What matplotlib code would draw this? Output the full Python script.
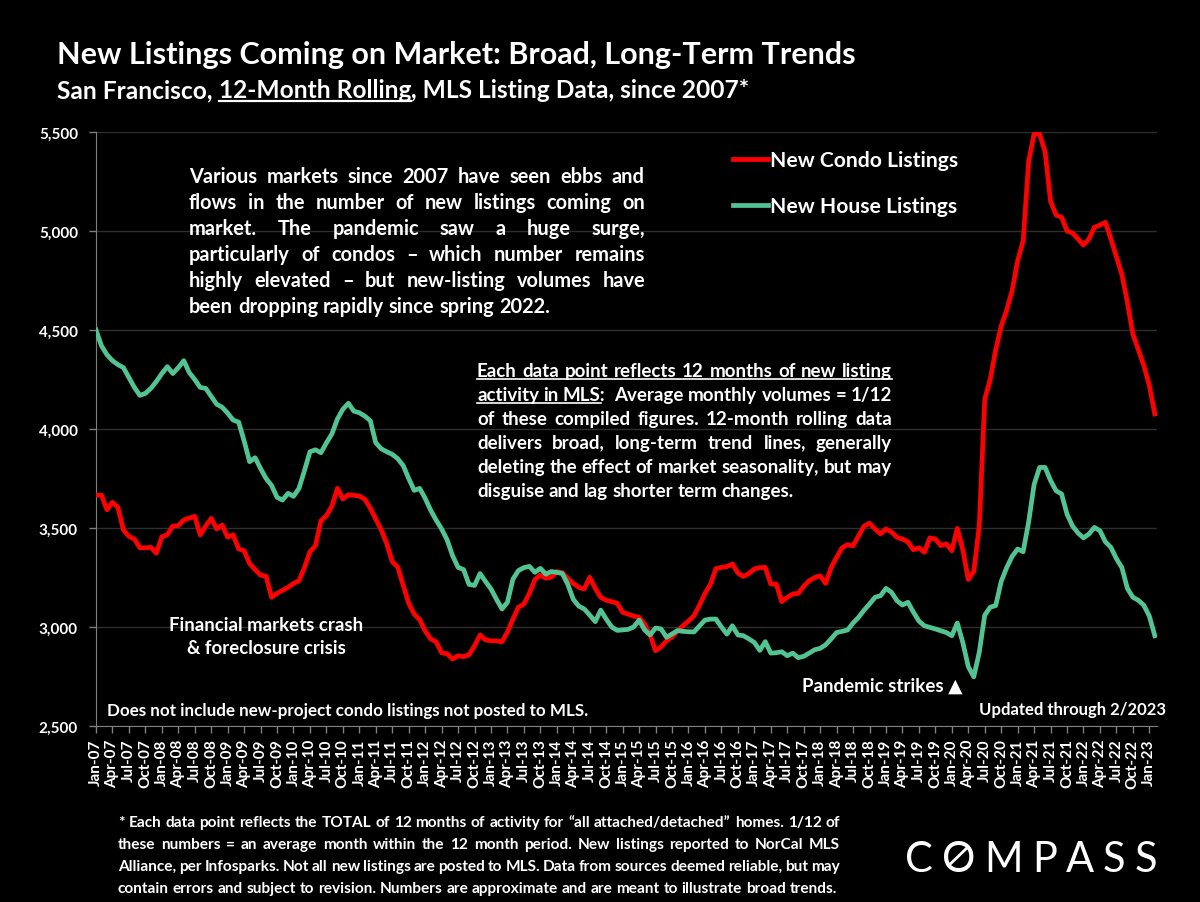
import numpy as np
import matplotlib.pyplot as plt
from matplotlib.lines import Line2D

plt.rcParams['font.family'] = ['Lato', 'DejaVu Sans']

# monthly, Jan-07 .. Feb-23 (12-month rolling totals)
mon = ["Jan", "Feb", "Mar", "Apr", "May", "Jun", "Jul", "Aug", "Sep", "Oct", "Nov", "Dec"]
months = [f"{m}-{y:02d}" for y in range(7, 24) for m in mon][:194]

condo = [
    3666, 3666, 3592, 3630, 3604, 3490, 3458, 3444, 3400, 3400, 3402, 3373,  # 2007
    3455, 3466, 3510, 3512, 3540, 3550, 3559, 3465, 3510, 3549, 3495, 3515,  # 2008
    3453, 3466, 3394, 3385, 3320, 3290, 3262, 3257, 3150, 3170, 3185, 3200,  # 2009
    3220, 3234, 3300, 3380, 3410, 3537, 3562, 3610, 3700, 3646, 3668, 3665,  # 2010
    3662, 3645, 3600, 3545, 3490, 3420, 3330, 3303, 3210, 3120, 3065, 3037,  # 2011
    2980, 2940, 2925, 2870, 2865, 2838, 2855, 2850, 2860, 2905, 2960, 2935,  # 2012
    2930, 2930, 2925, 2975, 3040, 3100, 3116, 3170, 3240, 3262, 3246, 3251,  # 2013
    3280, 3275, 3245, 3220, 3200, 3192, 3251, 3195, 3150, 3135, 3128, 3120,  # 2014
    3074, 3065, 3055, 3049, 3015, 2960, 2880, 2900, 2930, 2950, 2980, 3006,  # 2015
    3030, 3057, 3110, 3170, 3215, 3295, 3301, 3305, 3318, 3273, 3255, 3270,  # 2016
    3293, 3300, 3301, 3217, 3217, 3128, 3150, 3167, 3170, 3205, 3234, 3250,  # 2017
    3259, 3220, 3300, 3352, 3400, 3416, 3410, 3460, 3510, 3524, 3495, 3470,  # 2018
    3495, 3480, 3453, 3444, 3430, 3390, 3400, 3377, 3450, 3444, 3411, 3420,  # 2019
    3385, 3498, 3390, 3240, 3280, 3510, 4150, 4250, 4400, 4520, 4600, 4700,  # 2020
    4850, 4950, 5350, 5490, 5490, 5400, 5150, 5080, 5070, 5000, 4990, 4960,  # 2021
    4929, 4960, 5019, 5030, 5044, 4960, 4870, 4780, 4640, 4480, 4400, 4320,  # 2022
    4220, 4076,                                                              # 2023
]

house = [
    4500, 4420, 4375, 4345, 4325, 4310, 4260, 4210, 4170, 4180, 4205, 4240,  # 2007
    4280, 4315, 4280, 4310, 4345, 4285, 4250, 4210, 4205, 4165, 4125, 4110,  # 2008
    4080, 4045, 4035, 3940, 3835, 3855, 3800, 3750, 3715, 3655, 3641, 3675,  # 2009
    3660, 3700, 3790, 3885, 3895, 3880, 3930, 3975, 4050, 4100, 4130, 4090,  # 2010
    4082, 4065, 4042, 3930, 3900, 3885, 3872, 3850, 3815, 3750, 3690, 3700,  # 2011
    3650, 3590, 3540, 3495, 3440, 3360, 3301, 3290, 3215, 3210, 3270, 3230,  # 2012
    3192, 3140, 3091, 3125, 3242, 3285, 3300, 3306, 3276, 3296, 3267, 3280,  # 2013
    3276, 3270, 3215, 3140, 3105, 3091, 3060, 3027, 3085, 3040, 3000, 2983,  # 2014
    2985, 2988, 3000, 3035, 2985, 2960, 2995, 2990, 2948, 2965, 2982, 2978,  # 2015
    2976, 2975, 3005, 3035, 3040, 3040, 3000, 2964, 3006, 2960, 2956, 2940,  # 2016
    2922, 2882, 2926, 2868, 2870, 2875, 2855, 2868, 2845, 2852, 2868, 2885,  # 2017
    2892, 2910, 2940, 2972, 2978, 2985, 3020, 3049, 3085, 3116, 3150, 3158,  # 2018
    3195, 3175, 3133, 3111, 3125, 3075, 3030, 3006, 2998, 2990, 2981, 2972,  # 2019
    2956, 3020, 2922, 2800, 2748, 2872, 3060, 3100, 3108, 3230, 3300, 3357,  # 2020
    3394, 3380, 3530, 3720, 3806, 3806, 3740, 3688, 3672, 3570, 3510, 3475,  # 2021
    3450, 3470, 3503, 3486, 3430, 3402, 3345, 3300, 3195, 3150, 3135, 3110,  # 2022
    3055, 2956,                                                              # 2023
]

yticks = [2500, 3000, 3500, 4000, 4500, 5000, 5500]

RED = "#FF0000"
GREEN = "#52C493"
W, H = 1200, 903

fig = plt.figure(figsize=(W / 100, H / 100), dpi=100, facecolor="black")
ax = fig.add_axes([96 / W, 1 - 727 / H, (1157 - 96) / W, (727 - 133) / H])
ax.set_facecolor("black")

x = np.arange(len(condo))
ax.plot(x, condo, color=RED, lw=3.4, solid_joinstyle="round", zorder=3)
ax.plot(x, house, color=GREEN, lw=3.4, solid_joinstyle="round", zorder=3)

ax.set_xlim(0, 193.4)
ax.set_ylim(2500, 5500)
ax.set_yticks(yticks)
ax.set_yticklabels([f"{v:,}" for v in yticks], fontsize=11, fontweight="bold", color="white")
ax.set_xticks(x[::3])
ax.set_xticklabels(months[::3], rotation=90, fontsize=11, fontweight="bold", color="white")
ax.tick_params(axis="both", length=5, color="#7f7f7f", width=1)
ax.tick_params(axis="x", pad=4)
ax.tick_params(axis="y", pad=8)
ax.grid(axis="y", color="#2e2e2e", lw=1)
ax.set_axisbelow(True)
for s in ["top", "right"]:
    ax.spines[s].set_visible(False)
for s in ["left", "bottom"]:
    ax.spines[s].set_color("#7f7f7f")

R = fig.canvas.get_renderer()


def tw(s, size, weight="bold"):
    t = fig.text(0, 0, s, fontsize=size, fontweight=weight)
    w = t.get_window_extent(renderer=R).width
    t.remove()
    return w


def fit(s, target, weight="bold"):
    return 20 * target / tw(s, 20, weight)


def put(px, py, s, size, ha="left", va="baseline", weight="bold", **kw):
    return fig.text(px / W, 1 - py / H, s, fontsize=size, color="white",
                    fontweight=weight, ha=ha, va=va, **kw)


def hline(x0, x1, y, color="white", lw=1.2):
    fig.add_artist(Line2D([x0 / W, x1 / W], [1 - y / H, 1 - y / H], color=color, lw=lw))


def para(lines, x0, x1, y0, dy, size, justify_last=False):
    pos = []
    for k, line in enumerate(lines):
        words = line.split(" ")
        ws = [tw(w, size) if w else 0 for w in words]
        y = y0 + k * dy
        if (k < len(lines) - 1 or justify_last) and len(words) > 1:
            gap = (x1 - x0 - sum(ws)) / (len(words) - 1)
        else:
            gap = tw("a a", size) - tw("aa", size)
        xx = x0
        row = []
        for w, wd in zip(words, ws):
            if w:
                put(xx, y, w, size)
            row.append((xx, wd))
            xx += wd + gap
        pos.append(row)
    return pos


# title
put(57, 64, "New Listings Coming on Market: Broad, Long-Term Trends",
    fit("New Listings Coming on Market: Broad, Long-Term Trends", 798))
sub = ["San Francisco, ", "12-Month Rolling", ", MLS Listing Data, since 2007*"]
ss = fit("".join(sub), 691)
xx = 57
for k, s in enumerate(sub):
    w = tw(s, ss)
    put(xx, 98, s, ss)
    if k == 1:
        hline(xx, xx + w, 101.5, lw=1.6)
    xx += w

# commentary
p1 = ["Various markets since 2007 have seen ebbs and",
      "flows in the number of new listings coming on",
      "market. The pandemic saw a huge surge,",
      "particularly of condos \u2013 which number remains",
      "highly elevated \u2013 but new-listing volumes have",
      "been dropping rapidly since spring 2022."]
para(p1, 189, 645, 182.7, 26, fit(p1[-1], 362))

p2 = ["Each data point reflects 12 months of new listing",
      "activity in MLS:  Average monthly volumes = 1/12",
      "of these compiled figures. 12-month rolling data",
      "delivers broad, long-term trend lines, generally",
      "deleting the effect of market seasonality, but may",
      "disguise and lag shorter term changes."]
s2 = fit(p2[-1], 318)
pp = para(p2, 477, 892, 376.7, 24, s2)
hline(477, 892, 380)
hline(477, pp[1][2][0] + tw("MLS", s2), 404)

# legend
ls = fit("New Condo Listings", 188)
for yy, c, lab in [(160, RED, "New Condo Listings"), (206, GREEN, "New House Listings")]:
    fig.add_artist(Line2D([733 / W, 768 / W], [1 - yy / H, 1 - yy / H], color=c, lw=3.4))
    put(770, yy + 7, lab, ls)

# annotations
fs = fit("Financial markets crash", 193)
put(266, 630.7, "Financial markets crash", fs, ha="center")
put(266, 654.5, "& foreclosure crisis", fs, ha="center")
put(963, 691.7, "Pandemic strikes \u25b2", fit("Pandemic strikes \u25b2", 161), ha="right")
put(107, 716.5, "Does not include new-project condo listings not posted to MLS.",
    fit("Does not include new-project condo listings not posted to MLS.", 480))
put(1166, 715, "Updated through 2/2023", fit("Updated through 2/2023", 187), ha="right")

# footnote
foot = ["* Each data point reflects the TOTAL of 12 months of activity for \u201call attached/detached\u201d homes. 1/12 of",
        "these numbers = an average month within the 12 month period. New listings reported to NorCal MLS",
        "Alliance, per Infosparks. Not all new listings are posted to MLS. Data from sources deemed reliable, but may",
        "contain errors and subject to revision. Numbers are approximate and are meant to illustrate broad trends."]
para(foot, 118, 840, 827, 22, fit(foot[-1], 718))

# logo
logo = "COMPASS"
lsz = 30
lw_ = [tw(c, lsz, "normal") for c in logo]
track = (252 - sum(lw_)) / (len(logo) - 1)
xx = 905
for c, w in zip(logo, lw_):
    t = put(xx, 872, c, lsz, weight="normal")
    if c == "O":
        fig.add_artist(Line2D([(xx + w * 0.22) / W, (xx + w * 0.78) / W],
                              [1 - 866 / H, 1 - 848 / H], color="white", lw=2))
    xx += w + track

fig.savefig("out.png", dpi=100, facecolor="black")
